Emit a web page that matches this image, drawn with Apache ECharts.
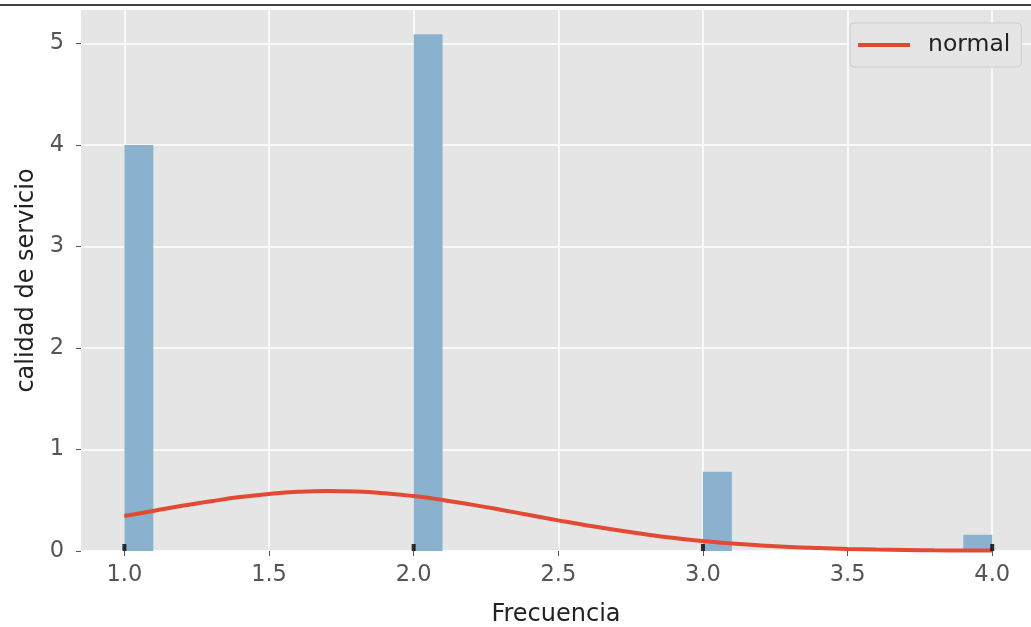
<!DOCTYPE html>
<html><head><meta charset="utf-8">
<script src="https://cdn.jsdelivr.net/npm/echarts@6/dist/echarts.min.js"></script>
<style>html,body{margin:0;padding:0;background:#fff}#c{width:1031px;height:627px}</style>
</head><body><div id="c"></div>
<script>
// Histogram bins (start, end) and density heights
const binStart = [1.0, 2.0, 3.0, 3.9];
const binEnd   = [1.1, 2.1, 3.1, 4.0];
const density  = [4.0, 5.09, 0.78, 0.16];
// Normal curve
const curveX = [1.0,1.1,1.2,1.3,1.4,1.5,1.6,1.7,1.8,1.9,2.0,2.1,2.2,2.3,2.4,2.5,2.6,2.7,2.8,2.9,3.0,3.1,3.2,3.3,3.4,3.5,3.6,3.7,3.8,3.9,4.0];
const curveY = [0.345,0.395,0.445,0.490,0.531,0.562,0.583,0.591,0.586,0.569,0.541,0.503,0.457,0.407,0.354,0.302,0.252,0.206,0.165,0.129,0.099,0.074,0.055,0.040,0.029,0.020,0.014,0.010,0.007,0.005,0.004];
// Rug marks
const rugX = [1.0, 2.0, 3.0, 4.0];
// Tick labels
const xTicks = [1.0, 1.5, 2.0, 2.5, 3.0, 3.5, 4.0];
const yTicks = [0, 1, 2, 3, 4, 5];

const FONT = 'DejaVu Sans';
const chart = echarts.init(document.getElementById('c'));
chart.setOption({
  animation: false,
  backgroundColor: '#ffffff',
  textStyle: { fontFamily: FONT },
  graphic: [{
    type: 'line', shape: { x1: 0, y1: 5, x2: 1031, y2: 5 },
    style: { stroke: '#000', lineWidth: 1.5 }, z: 100
  }],
  grid: { left: 81, top: 10, width: 950, height: 541, backgroundColor: '#E5E5E5', show: true, borderWidth: 0,
          outerBoundsMode: 'none', containLabel: false },
  legend: {
    left: 850, top: 23,
    padding: [10, 11, 10, 8],
    icon: 'rect', itemWidth: 52, itemHeight: 4,
    backgroundColor: '#E5E5E5', borderColor: '#CCCCCC', borderWidth: 1, borderRadius: 4,
    textStyle: { fontFamily: FONT, fontSize: 23.5, color: '#222', padding: [0, 0, 0, 13] },
    data: ['normal']
  },
  xAxis: {
    type: 'value', min: 0.85, max: 4.134,
    name: 'Frecuencia', nameLocation: 'middle', nameGap: 52,
    nameTextStyle: { fontFamily: FONT, fontSize: 24, color: '#222' },
    axisLine: { show: false },
    axisTick: { show: true, length: 5, lineStyle: { color: '#555', width: 1 }, customValues: xTicks },
    axisLabel: { customValues: xTicks, margin: 13, fontFamily: FONT, fontSize: 22.5, color: '#555', formatter: v => v.toFixed(1) },
    splitLine: { show: true, lineStyle: { color: '#ffffff', width: 1.5 } }
  },
  yAxis: {
    type: 'value', min: 0, max: 5.33,
    name: 'calidad de servicio', nameLocation: 'middle', nameGap: 42,
    nameTextStyle: { fontFamily: FONT, fontSize: 24, color: '#222' },
    axisLine: { show: false },
    axisTick: { show: true, length: 5, lineStyle: { color: '#555', width: 1 }, customValues: yTicks },
    axisLabel: { customValues: yTicks, margin: 17, fontFamily: FONT, fontSize: 22.5, color: '#555' },
    splitLine: { show: true, lineStyle: { color: '#ffffff', width: 1.5 } }
  },
  series: [
    {
      type: 'custom', name: 'hist', z: 2,
      data: binStart.map((s, i) => [s, binEnd[i], density[i]]),
      encode: { x: [0, 1], y: 2 },
      renderItem: (params, api) => {
        const p0 = api.coord([api.value(0), api.value(2)]);
        const p1 = api.coord([api.value(1), 0]);
        return { type: 'rect', shape: { x: p0[0], y: p0[1], width: p1[0] - p0[0], height: p1[1] - p0[1] },
                 style: { fill: '#8AB2CF' } };
      }
    },
    {
      type: 'line', name: 'normal', z: 3, symbol: 'none', smooth: true,
      data: curveX.map((x, i) => [x, curveY[i]]),
      lineStyle: { color: '#E24A33', width: 4 }, itemStyle: { color: '#E24A33' }
    },
    {
      type: 'scatter', name: 'rug', z: 4, symbol: 'rect', symbolSize: [4, 7], symbolOffset: [0, -3.5],
      data: rugX.map(x => [x, 0]), itemStyle: { color: '#000' }
    }
  ]
});
</script></body></html>
